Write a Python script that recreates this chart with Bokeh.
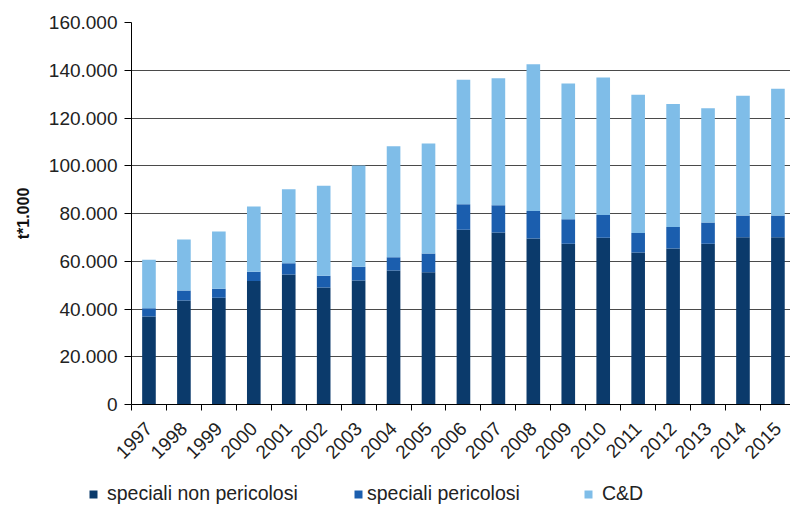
import math
from bokeh.plotting import figure
from bokeh.layouts import column
from bokeh.models import ColumnDataSource, FixedTicker, Range1d, Legend, LegendItem
from bokeh.embed import file_html
from bokeh.resources import INLINE

years = ["1997", "1998", "1999", "2000", "2001", "2002", "2003", "2004", "2005", "2006",
         "2007", "2008", "2009", "2010", "2011", "2012", "2013", "2014", "2015"]
speciali_non_pericolosi = [36900, 43600, 44700, 51700, 54500, 49000, 51900, 56100, 55400, 73200,
                           72000, 69500, 67300, 69800, 63700, 65300, 67300, 70100, 70100]
speciali_pericolosi = [3400, 4100, 3800, 3900, 4700, 4900, 5800, 5600, 7800, 10700,
                       11500, 11500, 10300, 9600, 8100, 9000, 8900, 9100, 9100]
c_and_d = [20300, 21400, 24000, 27300, 31000, 37700, 42400, 46500, 46100, 52100,
           53200, 61500, 56900, 57600, 57900, 51600, 47900, 50100, 53000]
series_names = ["speciali non pericolosi", "speciali pericolosi", "C&D"]
colors = ["#0b3a6b", "#1b5eae", "#7fbde8"]
y_ticks = [0, 20000, 40000, 60000, 80000, 100000, 120000, 140000, 160000]
y_labels = ["0", "20.000", "40.000", "60.000", "80.000", "100.000", "120.000", "140.000", "160.000"]

x = list(range(len(years)))
source = ColumnDataSource(dict(x=x, s1=speciali_non_pericolosi, s2=speciali_pericolosi, s3=c_and_d))

FONT = "Liberation Sans"

p = figure(width=790, height=474, output_backend="svg", toolbar_location=None,
           x_range=Range1d(-0.5, 18.36), y_range=Range1d(0, 160000),
           min_border_left=131, min_border_right=0, min_border_top=22, min_border_bottom=70)
p.outline_line_color = None

renderers = p.vbar_stack(["s1", "s2", "s3"], x="x", width=0.39, color=colors, source=source,
                         line_color=None)

# x axis
centers = x
bounds = [i - 0.5 for i in range(len(years) + 1)]
p.xaxis.ticker = FixedTicker(ticks=centers, minor_ticks=bounds)
p.xaxis.major_label_overrides = {i: y for i, y in zip(centers, years)}
p.xaxis.major_label_orientation = math.pi / 4
p.xaxis.major_tick_line_color = None
p.xaxis.major_tick_out = 6
p.xaxis.minor_tick_line_color = "black"
p.xaxis.minor_tick_out = 6
p.xaxis.minor_tick_in = 0
p.xaxis.axis_line_color = "black"
p.xaxis.major_label_text_font = FONT
p.xaxis.major_label_text_font_size = "19px"
p.xaxis.major_label_text_color = "#222222"
p.xaxis.major_label_standoff = 15

# y axis
p.yaxis.ticker = FixedTicker(ticks=y_ticks)
p.yaxis.major_label_overrides = {t: l for t, l in zip(y_ticks, y_labels)}
p.yaxis.minor_tick_line_color = None
p.yaxis.major_tick_out = 7
p.yaxis.major_tick_in = 0
p.yaxis.axis_line_color = "black"
p.yaxis.major_tick_line_color = "black"
p.yaxis.major_label_text_font = FONT
p.yaxis.major_label_text_font_size = "19px"
p.yaxis.major_label_text_color = "#222222"
p.yaxis.major_label_standoff = 7
p.yaxis.axis_label = "t*1.000"
p.yaxis.axis_label_text_font = FONT
p.yaxis.axis_label_text_font_size = "16px"
p.yaxis.axis_label_text_font_style = "bold"
p.yaxis.axis_label_text_color = "#111111"
p.yaxis.axis_label_standoff = 14

p.xgrid.grid_line_color = None
p.ygrid.ticker = FixedTicker(ticks=y_ticks)
p.ygrid.grid_line_color = "#4a4a4a"
p.ygrid.grid_line_width = 1

# legend strip below the chart
lp = figure(width=790, height=31, output_backend="svg", toolbar_location=None,
            x_range=Range1d(0, 1), y_range=Range1d(0, 1),
            min_border_left=0, min_border_right=0, min_border_top=0, min_border_bottom=0)
offset = 0
try:
    lp.frame_align = False
    p.frame_align = False
except Exception:
    offset = 131
lp.axis.visible = False
lp.grid.visible = False
lp.outline_line_color = None
legend_x = [88, 353, 583]
legend_standoff = [9, 4, 9]
cols = ["s1", "s2", "s3"]
for name, c, col, lx, sd in zip(series_names, colors, cols, legend_x, legend_standoff):
    r = lp.vbar(x="x", top=col, width=0.1, color=c, line_color=None, source=source, visible=False)
    lg = Legend(items=[LegendItem(label=name, renderers=[r])], location=(lx - offset, 0),
                orientation="horizontal", padding=0, margin=0, border_line_color=None,
                background_fill_alpha=0, glyph_width=10, glyph_height=10, label_standoff=sd,
                inactive_fill_alpha=0,
                label_text_font=FONT, label_text_font_size="19.5px", label_text_color="#222222")
    lp.add_layout(lg, "center")

layout = column(p, lp, spacing=0)
open("out.html", "w").write(file_html(layout, INLINE))
